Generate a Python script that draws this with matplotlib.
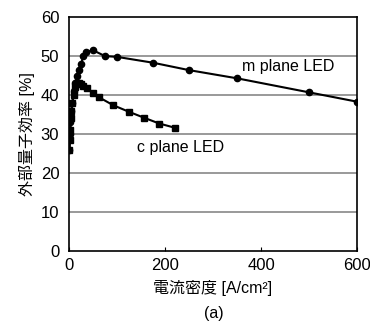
import numpy as np
import matplotlib.pyplot as plt

plt.rcParams['font.family'] = ['Liberation Sans', 'Noto Sans CJK JP', 'DejaVu Sans']

# m plane LED (circles)
m_x = [1, 2, 3, 5, 7, 10, 13, 17, 20, 25, 30, 35, 50, 75, 100, 175, 250, 350, 500, 600]
m_y = [26, 30, 33, 36, 38, 41, 43, 45, 46.5, 48, 50, 51, 51.5, 50, 49.8, 48.3, 46.4, 44.3, 40.7, 38.3]

# c plane LED (squares)
c_x = [1, 2, 3, 4, 5, 7, 10, 13, 17, 20, 25, 30, 37, 50, 63, 92, 125, 156, 188, 221]
c_y = [26, 28.5, 31, 34, 36, 38, 40, 42, 43, 43.2, 42.8, 42.2, 41.7, 40.6, 39.4, 37.4, 35.7, 34.2, 32.7, 31.6]

x_ticks = [0, 200, 400, 600]
y_ticks = [0, 10, 20, 30, 40, 50, 60]

fig = plt.figure(figsize=(3.7, 3.23), dpi=100)
ax = fig.add_axes([0.1865, 0.223, 0.7785, 0.724])

for yv in y_ticks[1:-1]:
    ax.axhline(yv, color='#888888', lw=1.2, zorder=1)

ax.plot(m_x, m_y, '-o', color='black', ms=4.5, lw=1.5, zorder=3)
ax.plot(c_x, c_y, '-s', color='black', ms=4.5, lw=1.5, zorder=3)

ax.set_xlim(0, 600)
ax.set_ylim(0, 60)
ax.set_xticks(x_ticks)
ax.set_yticks(y_ticks)
ax.tick_params(direction='in', length=3, labelsize=12, width=0.8)
ax.tick_params(axis='x', pad=5)
ax.tick_params(axis='y', length=0, pad=7)
for s in ax.spines.values():
    s.set_linewidth(1.2)

ax.text(360, 46.3, 'm plane LED', fontsize=11.5)
ax.text(141, 25.3, 'c plane LED', fontsize=11.5)

ax.set_ylabel('外部量子効率 [%]', fontsize=11.5, labelpad=4)
ax.set_xlabel('電流密度 [A/cm²]', fontsize=11.5, labelpad=5)
fig.text(0.578, 0.015, '(a)', ha='center', fontsize=11.5)

fig.savefig('out.png', dpi=100)
